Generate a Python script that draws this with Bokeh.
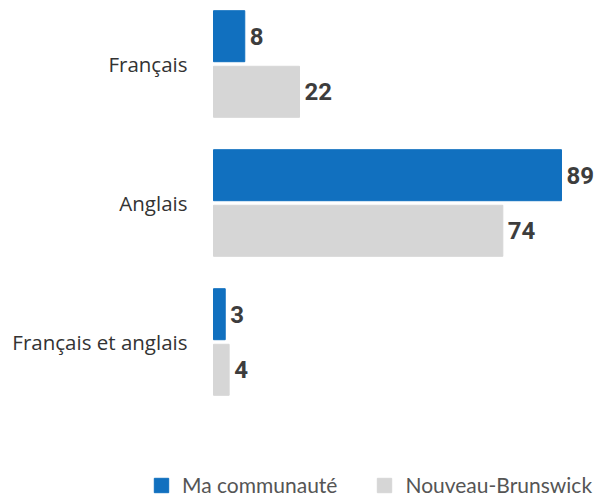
from bokeh.plotting import figure
from bokeh.models import ColumnDataSource, Range1d
from bokeh.transform import dodge
from bokeh.core.properties import value
from bokeh.embed import file_html
from bokeh.resources import INLINE

categories = ["Français", "Anglais", "Français et anglais"]
ma_communaute = [8, 89, 3]
nouveau_brunswick = [22, 74, 4]
series_names = ["Ma communauté", "Nouveau-Brunswick"]
colors = ["#1170bf", "#d6d6d6"]

ypos = [2, 1, 0]

src_a = ColumnDataSource(dict(y=ypos, v=ma_communaute, t=[str(v) for v in ma_communaute]))
src_b = ColumnDataSource(dict(y=ypos, v=nouveau_brunswick, t=[str(v) for v in nouveau_brunswick]))
src_c = ColumnDataSource(dict(y=ypos, c=categories))

px_per_unit = 3.91
left_px = 213
p = figure(width=600, height=500, output_backend="svg", toolbar_location=None,
           x_axis_type=None, y_axis_type=None, min_border=0,
           x_range=Range1d(-left_px / px_per_unit, (600 - left_px) / px_per_unit),
           y_range=Range1d(2 - (500 - 63.5) / 139, 2 + 63.5 / 139))
p.outline_line_color = None
p.grid.visible = False
p.background_fill_color = "white"
p.border_fill_color = "white"

h = 0.367
off = 0.2
p.hbar(y=dodge("y", off, range=p.y_range), left=0, right="v", height=h, source=src_a,
       color=colors[0], legend_label=series_names[0])
p.hbar(y=dodge("y", -off, range=p.y_range), left=0, right="v", height=h, source=src_b,
       color=colors[1], legend_label=series_names[1])

for src, o in ((src_a, off), (src_b, -off)):
    p.text(x="v", y=dodge("y", o, range=p.y_range), text="t", source=src,
           x_offset=5, text_align="left", text_baseline="middle",
           text_font=value("Roboto"), text_font_style="bold", text_font_size="24px",
           text_color="#3d3d3d")

p.text(x=0, y="y", text="c", source=src_c, x_offset=-26, text_align="right",
       text_baseline="middle", text_font=value("Open Sans"), text_font_size="20.5px",
       text_color="#333333")

lg = p.legend[0]
lg.location = (152, 3)
lg.orientation = "horizontal"
lg.padding = 0
lg.margin = 0
lg.spacing = 38
lg.glyph_width = 18
lg.glyph_height = 18
lg.label_height = 18
lg.label_standoff = 12
lg.label_text_font = "Lato"
lg.label_text_font_size = "21px"
lg.label_text_color = "#555555"
lg.border_line_color = None
lg.background_fill_alpha = 0

open("out.html", "w").write(file_html(p, INLINE))
